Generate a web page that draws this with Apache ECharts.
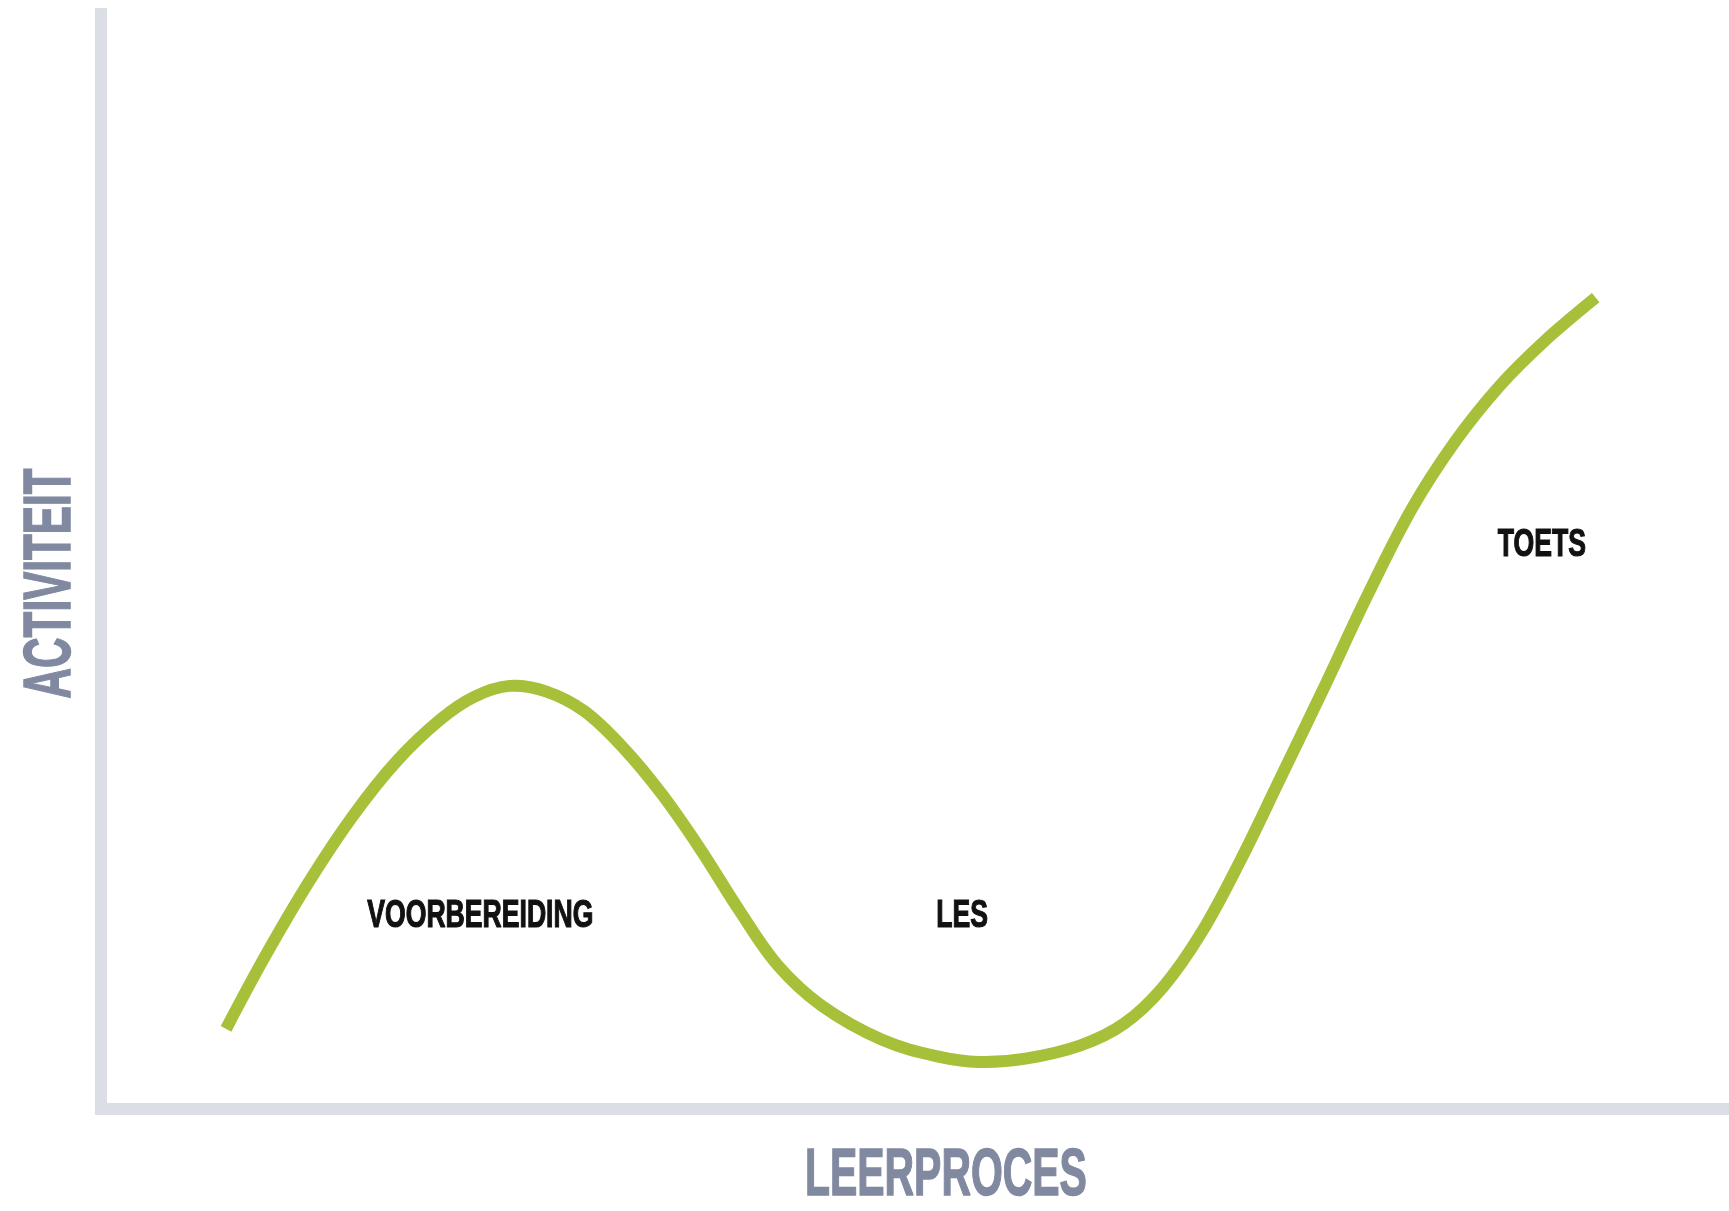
<!DOCTYPE html>
<html>
<head>
<meta charset="utf-8">
<script src="https://cdn.jsdelivr.net/npm/echarts@6/dist/echarts.min.js"></script>
<style>
html,body{margin:0;padding:0;background:#fff;}
#chart{width:1729px;height:1211px;}
</style>
</head>
<body>
<div id="chart"></div>
<script>
// Learning process (x) vs activity (y), arbitrary 0-100 units
const leerproces = [7.68, 10.05, 12.76, 15.47, 18.18, 20.89, 22.92, 25.09, 27.32, 29.69, 32.07, 34.44, 36.81, 39.18, 41.55, 44.26, 47.98, 51.37, 53.94, 56.79, 60.17, 62.88, 65.25, 67.63, 70.00, 72.37, 75.08, 77.79, 80.49, 83.20, 85.91, 88.62, 91.81];
const activiteit = [7.32, 13.87, 20.72, 26.76, 31.79, 35.62, 37.64, 38.64, 38.14, 36.33, 33.00, 28.77, 23.74, 18.20, 13.16, 9.44, 6.32, 4.81, 4.30, 4.60, 5.81, 7.83, 11.15, 16.19, 22.73, 29.98, 38.34, 46.90, 54.75, 61.00, 66.03, 70.06, 74.09];

const phaseNames = ['VOORBEREIDING', 'LES', 'TOETS'];
const phaseX = [23.3, 52.9, 88.5];
const phaseY = [17.6, 17.6, 51.5];

const xTitle = 'LEERPROCES';
const yTitle = 'ACTIVITEIT';

const chart = echarts.init(document.getElementById('chart'), null, {renderer: 'canvas'});
const axisColor = '#dcdee5';
const titleColor = '#8189a1';
const curveColor = '#a6c03a';
const FONT = '"Liberation Sans", Arial, sans-serif';

const curveData = leerproces.map((x, i) => [x, activiteit[i]]);

chart.setOption({
  animation: false,
  backgroundColor: '#ffffff',
  grid: {left: 101, right: 0, top: 14, bottom: 102, containLabel: false},
  xAxis: {
    type: 'value', min: 0, max: 100,
    axisLine: {show: true, onZero: false, lineStyle: {color: axisColor, width: 12, cap: 'square'}},
    axisTick: {show: false}, axisLabel: {show: false}, splitLine: {show: false}
  },
  yAxis: {
    type: 'value', min: 0, max: 100,
    axisLine: {show: true, onZero: false, lineStyle: {color: axisColor, width: 12, cap: 'square'}},
    axisTick: {show: false}, axisLabel: {show: false}, splitLine: {show: false}
  },
  series: [{
    type: 'custom',
    data: curveData,
    encode: {x: 0, y: 1},
    clip: false,
    z: 5,
    renderItem: function (params, api) {
      if (params.dataIndex !== 0) return null;
      const pts = curveData.map(d => api.coord(d));
      return {
        type: 'polyline',
        shape: {points: pts, smooth: 0.36},
        style: {stroke: curveColor, lineWidth: 12, fill: null, lineCap: 'butt', lineJoin: 'round'},
        silent: true
      };
    }
  }]
});

const graphics = [];
phaseNames.forEach((name, i) => {
  const p = chart.convertToPixel({gridIndex: 0}, [phaseX[i], phaseY[i]]);
  graphics.push({
    type: 'text', x: p[0], y: p[1], scaleX: 0.7, scaleY: 1,
    style: {text: name, fill: '#111111', stroke: '#111111', lineWidth: 1.2, font: 'bold 38px ' + FONT, textAlign: 'center', textVerticalAlign: 'middle'},
    z: 10
  });
});
// axis titles
const xMid = chart.convertToPixel({gridIndex: 0}, [51.9, 0]);
graphics.push({
  type: 'text', x: xMid[0], y: 1177, scaleX: 0.62,
  style: {text: xTitle, fill: titleColor, stroke: titleColor, lineWidth: 1.5, font: 'bold 66px ' + FONT, textAlign: 'center', textVerticalAlign: 'middle'}
});
const yMid = chart.convertToPixel({gridIndex: 0}, [0, 48.0]);
graphics.push({
  type: 'text', x: 52, y: yMid[1], rotation: Math.PI / 2, scaleX: 0.64,
  style: {text: yTitle, fill: titleColor, stroke: titleColor, lineWidth: 1.5, font: 'bold 66px ' + FONT, textAlign: 'center', textVerticalAlign: 'middle'}
});
chart.setOption({graphic: graphics});
</script>
</body>
</html>
